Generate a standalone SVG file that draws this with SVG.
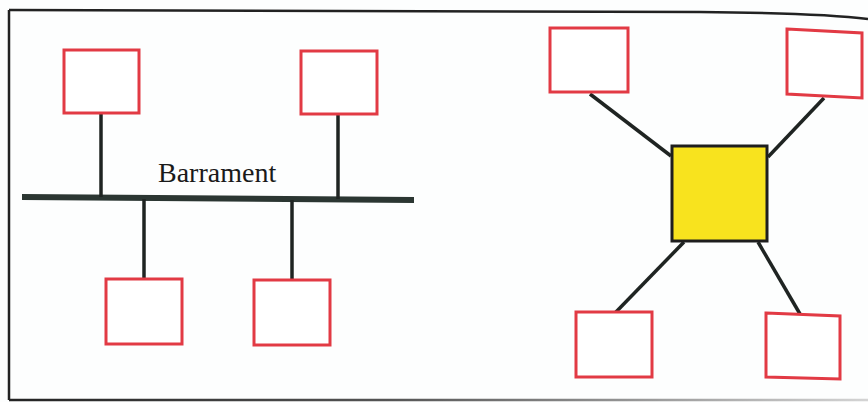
<svg xmlns="http://www.w3.org/2000/svg" width="868" height="402" viewBox="0 0 868 402">
  <defs>
    <style>
      .node { fill: #ffffff; stroke: #e23a44; stroke-width: 3; }
      .hub { fill: #f8e31e; stroke: #1e1e1e; stroke-width: 3; }
      .link { stroke: #1f2422; stroke-width: 3.5; fill: none; stroke-linecap: butt; }
      .bus { stroke: #2b3632; stroke-width: 6; fill: none; }
      .frame { stroke: #222; stroke-width: 2.5; fill: none; }
      .label { font-family: "Liberation Serif", "Times New Roman", serif; font-size: 28px; fill: #1a1a1a; }
    </style>
    <linearGradient id="bottomFade" x1="0" y1="0" x2="868" y2="0" gradientUnits="userSpaceOnUse">
      <stop offset="0" stop-color="#222"/>
      <stop offset="0.45" stop-color="#555"/>
      <stop offset="1" stop-color="#d4d4d4"/>
    </linearGradient>
  </defs>

  <rect width="868" height="402" fill="#fdfefe"/>

  <!-- page frame -->
  <g id="frame">
    <path class="frame" d="M9,10 L700,12 Q820,13 868,19"/>
    <path class="frame" d="M9,10 L9,400"/>
    <path d="M9,400 L868,400" stroke="url(#bottomFade)" stroke-width="2.5" fill="none"/>
  </g>

  <!-- connectors -->
  <g id="connectors">
    <!-- bus topology -->
    <line class="bus" x1="22" y1="197" x2="414" y2="200"/>
    <line class="link" x1="101" y1="113" x2="101" y2="197"/>
    <line class="link" x1="338" y1="115" x2="338" y2="199"/>
    <line class="link" x1="144" y1="199" x2="144" y2="279"/>
    <line class="link" x1="292" y1="200" x2="292" y2="280"/>
    <!-- star topology -->
    <line class="link" x1="590" y1="94" x2="671" y2="156"/>
    <line class="link" x1="824" y1="98" x2="768" y2="157"/>
    <line class="link" x1="684" y1="242" x2="615" y2="313"/>
    <line class="link" x1="758" y1="242" x2="800" y2="314"/>
  </g>

  <text class="label" x="158" y="182">Barrament</text>

  <g id="bus-node-1"><rect class="node" x="64" y="50" width="75" height="63"/></g>
  <g id="bus-node-2"><rect class="node" x="301" y="51" width="76" height="63"/></g>
  <g id="bus-node-3"><rect class="node" x="106" y="279" width="76" height="65"/></g>
  <g id="bus-node-4"><rect class="node" x="254" y="280" width="76" height="65"/></g>

  <g id="hub"><rect class="hub" x="672" y="146" width="95" height="95"/></g>
  <g id="star-node-1"><rect class="node" x="550" y="28" width="78" height="64"/></g>
  <g id="star-node-2"><polygon class="node" points="787,29 862,33 862,98 787,94"/></g>
  <g id="star-node-3"><rect class="node" x="576" y="312" width="76" height="65"/></g>
  <g id="star-node-4"><polygon class="node" points="766,313 840,316 840,379 766,377"/></g>
</svg>
